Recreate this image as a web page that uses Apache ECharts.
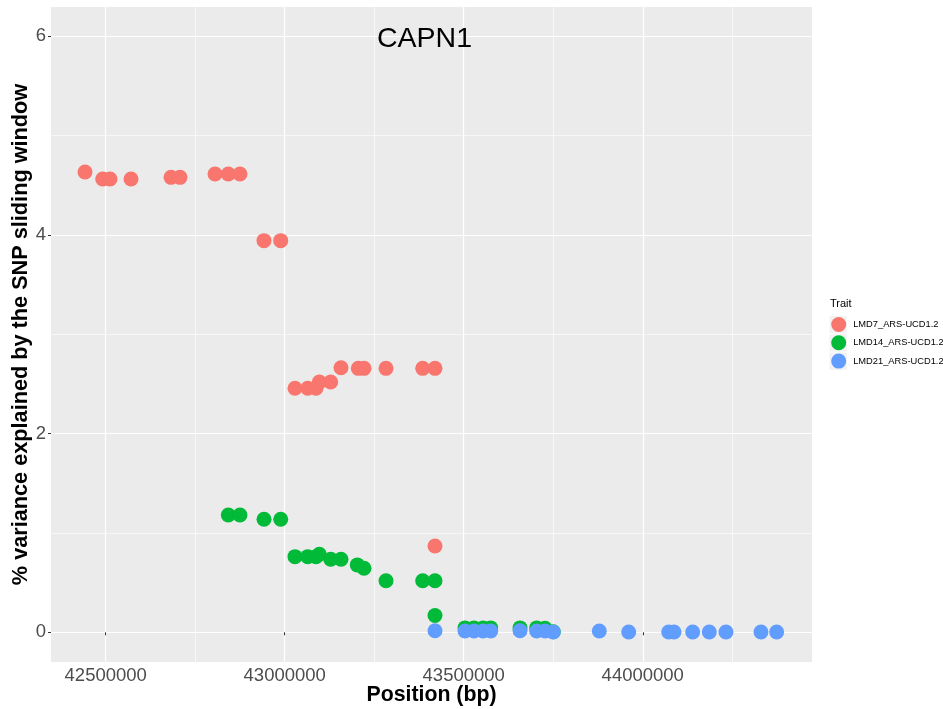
<!DOCTYPE html>
<html>
<head>
<meta charset="utf-8">
<script src="https://cdn.jsdelivr.net/npm/echarts@6/dist/echarts.min.js"></script>
<style>
html,body{margin:0;padding:0;background:#fff;}
#chart{width:943px;height:709px;}
</style>
</head>
<body>
<div id="chart"></div>
<script>
// ---- data ----
const traitNames = ['LMD7_ARS-UCD1.2', 'LMD14_ARS-UCD1.2', 'LMD21_ARS-UCD1.2'];

const lmd7Pos = [42442200, 42491600, 42512000, 42570700, 42682400, 42707500, 42805300, 42842400, 42875000,
  42942100, 42988800, 43028700, 43064200, 43087400, 43096600, 43128400, 43157200, 43205500, 43221400,
  43282900, 43385400, 43419700, 43419700];
const lmd7Val = [4.632, 4.561, 4.561, 4.561, 4.578, 4.578, 4.611, 4.611, 4.611,
  3.941, 3.941, 2.455, 2.455, 2.455, 2.519, 2.519, 2.662, 2.656, 2.656,
  2.656, 2.656, 2.656, 0.868];

const lmd14Pos = [42842400, 42875000, 42942100, 42988800, 43028700, 43064200, 43087400, 43096600, 43128400,
  43157200, 43202700, 43221400, 43282900, 43385400, 43419700, 43419700, 43503500, 43528600, 43553800,
  43575300, 43657200, 43703800, 43727000, 43750100];
const lmd14Val = [1.180, 1.180, 1.137, 1.137, 0.761, 0.761, 0.761, 0.785, 0.735,
  0.735, 0.678, 0.644, 0.519, 0.519, 0.519, 0.169, 0.044, 0.044, 0.044,
  0.044, 0.044, 0.044, 0.040, 0.006];

const lmd21Pos = [43419700, 43503500, 43528600, 43553800, 43575300, 43657200, 43703800, 43727000, 43750100,
  43878600, 43960700, 44072400, 44087200, 44139400, 44185800, 44232400, 44330200, 44374000];
const lmd21Val = [0.016, 0.013, 0.013, 0.013, 0.013, 0.016, 0.013, 0.013, 0.003,
  0.013, 0.003, 0.003, 0.003, 0.003, 0.003, 0.003, 0.003, 0.003];

const xMajorTicks = [42500000, 43000000, 43500000, 44000000];
const xMinorTicks = [42750000, 43250000, 43750000, 44250000];
const yMajorTicks = [0, 2, 4, 6];
const yMinorTicks = [1, 3, 5];

const colors = ['#F8766D', '#00BA38', '#619CFF'];
// ------------------------------------------------

const FONT = 'Liberation Sans, Arial, Helvetica, sans-serif';
function pairs(xs, ys) { return xs.map((x, i) => [x, ys[i]]); }

const xMin = 42347200, xMax = 44472700;
const yMin = -0.299, yMax = 6.292;

const chart = echarts.init(document.getElementById('chart'), null, {renderer: 'canvas'});

const keyRects = [315.9, 334.2, 352.5].map(y => ({
  type: 'rect', z: -1, shape: {x: 829.5, y: y, width: 17.3, height: 17.3}, style: {fill: '#F2F2F2'}
}));

const option = {
  animation: false,
  textStyle: {fontFamily: FONT},
  title: {
    text: 'CAPN1',
    left: 377,
    top: 25,
    padding: 0,
    textStyle: {fontFamily: FONT, fontSize: 28.5, fontWeight: 'normal', color: '#000'}
  },
  grid: {
    left: 51, right: 131, top: 7, bottom: 47,
    containLabel: false,
    outerBoundsMode: 'none',
    show: true, backgroundColor: '#EBEBEB', borderWidth: 0
  },
  legend: {
    orient: 'vertical',
    left: 831.2,
    top: 317,
    padding: 0,
    itemWidth: 19,
    itemHeight: 15,
    itemGap: 3.3,
    icon: 'circle',
    data: traitNames,
    textStyle: {fontFamily: FONT, fontSize: 9.3, color: '#000'}
  },
  graphic: [
    {type: 'text', left: 830, top: 298, style: {text: 'Trait', font: '11px ' + FONT, fill: '#000'}}
  ].concat(keyRects),
  xAxis: [
    {
      type: 'value', min: xMin, max: xMax,
      name: 'Position (bp)', nameLocation: 'middle', nameGap: 23, nameMoveOverlap: false,
      nameTextStyle: {fontFamily: FONT, fontSize: 21.3, fontWeight: 'bold', color: '#000'},
      axisLine: {show: false},
      axisTick: {show: true, length: 3, customValues: xMajorTicks, lineStyle: {color: '#333333', width: 1}},
      axisLabel: {customValues: xMajorTicks, margin: 4, fontFamily: FONT, fontSize: 18.5, color: '#4D4D4D',
        formatter: v => String(v)},
      splitLine: {show: true, lineStyle: {color: '#FFFFFF', width: 1.2}}
    },
    {
      type: 'value', min: xMin, max: xMax, gridIndex: 0,
      axisLine: {show: false},
      axisTick: {show: false, customValues: xMinorTicks},
      axisLabel: {show: false, customValues: xMinorTicks},
      splitLine: {show: true, lineStyle: {color: '#FFFFFF', width: 0.6}}
    }
  ],
  yAxis: [
    {
      type: 'value', min: yMin, max: yMax,
      name: '% variance explained by the SNP sliding window', nameLocation: 'middle', nameGap: 19, nameMoveOverlap: false,
      nameTextStyle: {fontFamily: FONT, fontSize: 21.7, fontWeight: 'bold', color: '#000'},
      axisLine: {show: false},
      axisTick: {show: true, length: 3, customValues: yMajorTicks, lineStyle: {color: '#333333', width: 1}},
      axisLabel: {customValues: yMajorTicks, margin: 5, fontFamily: FONT, fontSize: 18.5, color: '#4D4D4D'},
      splitLine: {show: true, lineStyle: {color: '#FFFFFF', width: 1.2}}
    },
    {
      type: 'value', min: yMin, max: yMax, gridIndex: 0,
      axisLine: {show: false},
      axisTick: {show: false, customValues: yMinorTicks},
      axisLabel: {show: false, customValues: yMinorTicks},
      splitLine: {show: true, lineStyle: {color: '#FFFFFF', width: 0.6}}
    }
  ],
  series: [
    {name: traitNames[0], type: 'scatter', symbol: 'circle', symbolSize: 15, data: pairs(lmd7Pos, lmd7Val),
      itemStyle: {color: colors[0], opacity: 1}},
    {name: traitNames[1], type: 'scatter', symbol: 'circle', symbolSize: 15, data: pairs(lmd14Pos, lmd14Val),
      itemStyle: {color: colors[1], opacity: 1}},
    {name: traitNames[2], type: 'scatter', symbol: 'circle', symbolSize: 15, data: pairs(lmd21Pos, lmd21Val),
      itemStyle: {color: colors[2], opacity: 1}}
  ]
};
chart.setOption(option);
</script>
</body>
</html>
